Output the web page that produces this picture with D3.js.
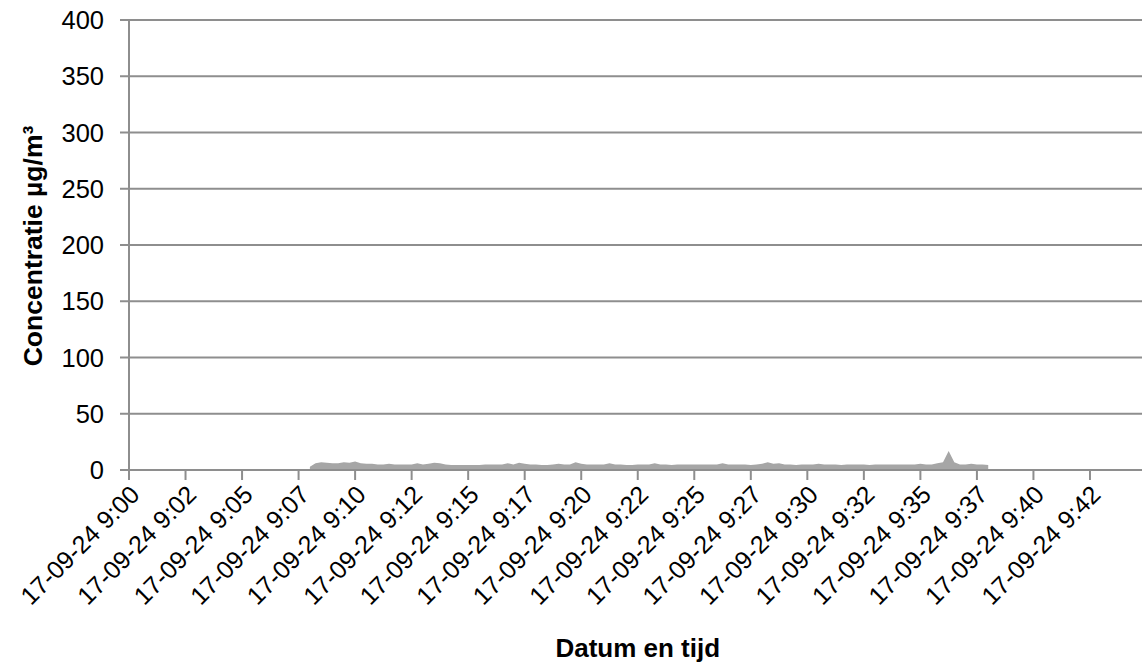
<!DOCTYPE html>
<html>
<head>
<meta charset="utf-8">
<script src="https://cdn.jsdelivr.net/npm/d3@7"></script>
<style>
  html, body { margin: 0; padding: 0; background: #fff; }
  svg { display: block; }
  text { font-family: "Liberation Sans", Arial, sans-serif; fill: #000; }
</style>
</head>
<body>
<svg id="chart" width="1142" height="665"></svg>
<script>
// ---- data ----
const axisStart = new Date(2024, 8, 17, 9, 0, 0);
const axisEnd = new Date(2024, 8, 17, 9, 45, 0);
const seriesStart = new Date(2024, 8, 17, 9, 8, 0);
const stepSeconds = 15;
const yTicks = [0, 50, 100, 150, 200, 250, 300, 350, 400];
const xTickMinutes = [0, 2.5, 5, 7.5, 10, 12.5, 15, 17.5, 20, 22.5, 25, 27.5, 30, 32.5, 35, 37.5, 40, 42.5];
const concentration = [
  3, 6, 7, 6.5, 6, 6, 7, 6.5, 7.5, 6, 5.5, 5.5, 5, 5, 5.5, 5, 5, 5, 5, 6,
  5, 5.5, 6.5, 6, 5, 4.5, 4.5, 4.5, 4.5, 4.5, 4.5, 5, 5, 5, 5, 6, 5, 6.5, 5.5, 5,
  5, 4.5, 4.5, 5, 5.5, 5, 5, 7, 5.5, 5, 5, 5, 5, 6, 5, 5, 4.5, 4.5, 5, 5,
  5, 6, 5, 5, 4.5, 5, 5, 5, 5, 5, 5, 5, 5, 6, 5, 5, 5, 5, 4.5, 5,
  5.5, 7, 5.5, 6, 5, 5, 4.5, 5, 5, 5, 5.5, 5, 5, 5, 4.5, 5, 5, 5, 5, 4.5,
  5, 5, 5, 5, 5, 5, 5, 5, 5.5, 5, 5, 6, 7, 17, 7, 5, 5, 5.5, 5, 5, 4.5
];
const xTitle = "Datum en tijd";
const yTitle = "Concentratie µg/m³";

// ---- layout ----
const svg = d3.select("#chart");
const mLeft = 129, mRight = 1146.5, mTop = 20, mBottom = 470;
const gridColor = "#8e8e8e";

const x = d3.scaleTime().domain([axisStart, axisEnd]).range([mLeft, mRight]);
const y = d3.scaleLinear().domain([0, 400]).range([mBottom, mTop]);

const points = concentration.map((v, i) => ({
  t: new Date(seriesStart.getTime() + i * stepSeconds * 1000), v
}));
const fmt = d3.timeFormat("%d-%m-%y %-H:%M");

// gridlines
svg.append("g").selectAll("line").data(yTicks.filter(d => d > 0)).join("line")
  .attr("x1", mLeft - 9).attr("x2", mRight)
  .attr("y1", d => y(d)).attr("y2", d => y(d))
  .attr("stroke", gridColor).attr("stroke-width", 2);

// area
const area = d3.area().x(d => x(d.t)).y0(y(0)).y1(d => y(d.v)).curve(d3.curveLinear);
svg.append("path").datum(points).attr("d", area).attr("fill", "#a6a6a6");

// axes lines
svg.append("line").attr("x1", mLeft).attr("x2", mLeft).attr("y1", mTop).attr("y2", mBottom)
  .attr("stroke", gridColor).attr("stroke-width", 2);
svg.append("line").attr("x1", mLeft - 9).attr("x2", mRight).attr("y1", y(0)).attr("y2", y(0))
  .attr("stroke", gridColor).attr("stroke-width", 2);

// x ticks
const xTickDates = xTickMinutes.map(m => new Date(axisStart.getTime() + m * 60000));
svg.append("g").selectAll("line").data(xTickDates).join("line")
  .attr("x1", d => x(d)).attr("x2", d => x(d))
  .attr("y1", mBottom).attr("y2", mBottom + 10)
  .attr("stroke", gridColor).attr("stroke-width", 2);

svg.append("g").selectAll("text").data(xTickDates).join("text")
  .attr("transform", d => `translate(${x(d) + 6},${mBottom + 20}) rotate(-45)`)
  .attr("text-anchor", "end").attr("dy", "0.35em")
  .style("font-size", "25px")
  .text(d => fmt(d));

// y tick labels
svg.append("g").selectAll("text").data(yTicks).join("text")
  .attr("x", 104).attr("y", d => y(d)).attr("dy", "0.36em")
  .attr("text-anchor", "end").style("font-size", "25.5px")
  .text(d => d);

// titles
svg.append("text").attr("x", (mLeft + mRight) / 2).attr("y", 657)
  .attr("text-anchor", "middle").style("font-size", "26px").style("font-weight", "bold")
  .text(xTitle);
svg.append("text").attr("transform", `translate(42,${(mTop + mBottom) / 2 + 1}) rotate(-90)`)
  .attr("text-anchor", "middle").style("font-size", "26.5px").style("font-weight", "bold")
  .text(yTitle);
</script>
</body>
</html>
